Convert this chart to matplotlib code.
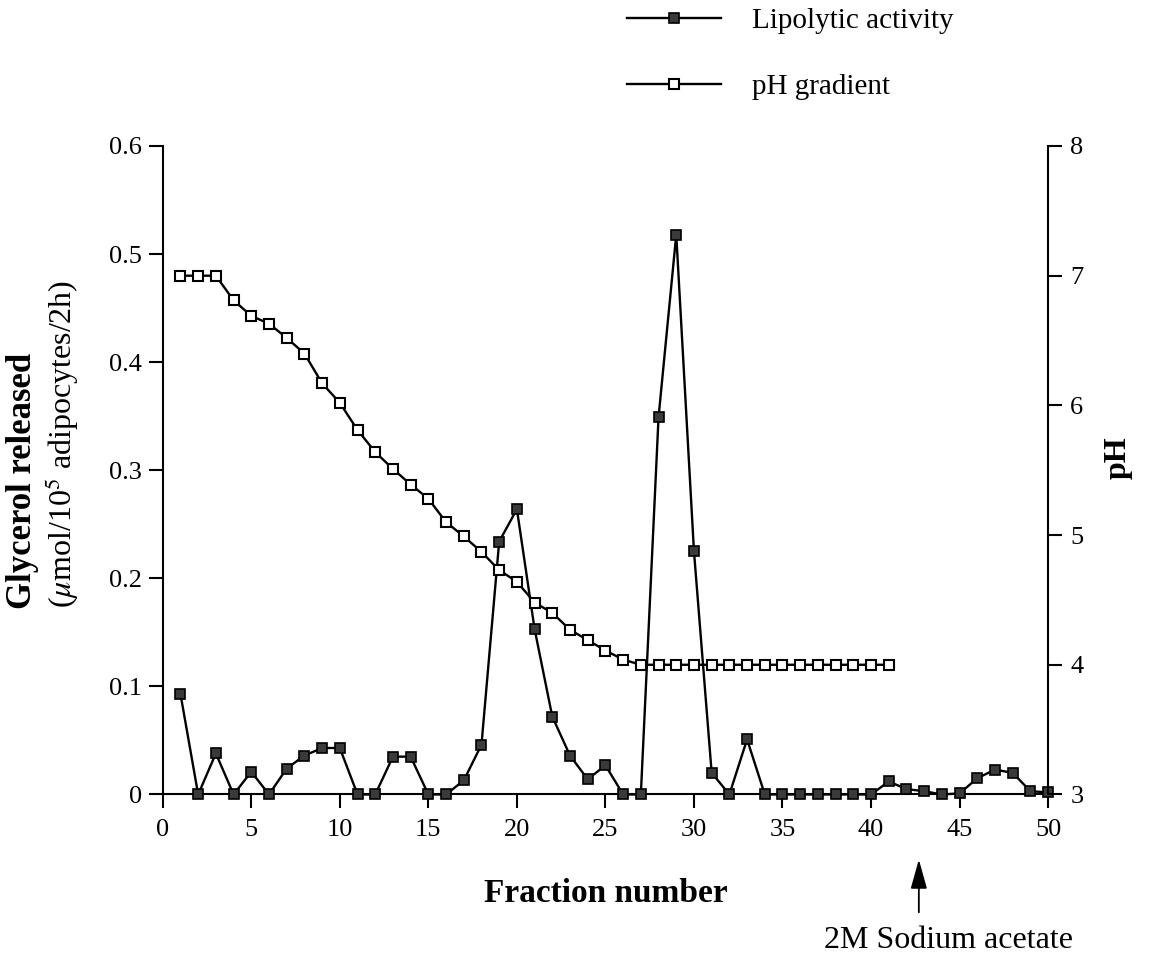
import matplotlib.pyplot as plt

plt.rcParams['font.family'] = ['Liberation Serif', 'DejaVu Serif']
plt.rcParams['mathtext.fontset'] = 'stix'

# Fraction numbers and measured values
fractions = list(range(1, 51))
lipolytic = [0.093, 0.0, 0.038, 0.0, 0.021, 0.0, 0.024, 0.036, 0.043, 0.043,
             0.0, 0.0, 0.035, 0.035, 0.0, 0.0, 0.013, 0.046, 0.234, 0.264,
             0.153, 0.072, 0.036, 0.014, 0.027, 0.0, 0.0, 0.349, 0.518, 0.225,
             0.020, 0.0, 0.051, 0.0, 0.0, 0.0, 0.0, 0.0, 0.0, 0.0,
             0.012, 0.005, 0.003, 0.0, 0.001, 0.015, 0.023, 0.020, 0.003, 0.002]

ph_fractions = list(range(1, 42))
ph_values = [7.0, 7.0, 7.0, 6.81, 6.69, 6.63, 6.52, 6.40, 6.17, 6.02,
             5.81, 5.64, 5.51, 5.39, 5.28, 5.10, 4.99, 4.87, 4.73, 4.64,
             4.48, 4.40, 4.27, 4.19, 4.11, 4.04, 4.0, 4.0, 4.0, 4.0,
             4.0, 4.0, 4.0, 4.0, 4.0, 4.0, 4.0, 4.0, 4.0, 4.0, 4.0]

x_ticks = list(range(0, 51, 5))
y_ticks = [0, 0.1, 0.2, 0.3, 0.4, 0.5, 0.6]
y_ticklabels = ['0', '0.1', '0.2', '0.3', '0.4', '0.5', '0.6']
ph_ticks = [3, 4, 5, 6, 7, 8]

fig = plt.figure(figsize=(11.51, 9.58), dpi=100)
ax = fig.add_axes([0.1414, 0.1707, 0.7692, 0.6769])
ax2 = ax.twinx()

l1, = ax.plot(fractions, lipolytic, color='black', lw=1.7, marker='s',
              markersize=7.8, markerfacecolor='#3a3a3a', markeredgecolor='black',
              markeredgewidth=1.2, clip_on=False, zorder=3)
l2, = ax2.plot(ph_fractions, ph_values, color='black', lw=1.7, marker='s',
               markersize=7.8, markerfacecolor='white', markeredgecolor='black',
               markeredgewidth=1.5, clip_on=False, zorder=3)

ax.set_xlim(0, 50)
ax.set_ylim(0, 0.6)
ax2.set_ylim(3, 8)
ax.set_xticks(x_ticks)
ax.set_yticks(y_ticks)
ax.set_yticklabels(y_ticklabels)
ax2.set_yticks(ph_ticks)

for a in (ax, ax2):
    a.spines['top'].set_visible(False)
    for s in a.spines.values():
        s.set_linewidth(1.5)
    a.tick_params(direction='out', length=10, width=1.5, labelsize=19)
ax.spines['right'].set_visible(False)
ax2.spines['left'].set_visible(False)
ax2.spines['bottom'].set_visible(False)
ax.tick_params(axis='x', pad=8)
ax.tick_params(axis='y', pad=5)
ax2.tick_params(axis='y', pad=6)

ax.set_xlabel('Fraction number', fontsize=24, fontweight='bold', labelpad=26)

fig.text(1118 / 1151, 1 - 458 / 958, 'pH', rotation=90, ha='center',
         va='center', fontsize=23, fontweight='bold')
fig.text(23 / 1151, 1 - 609 / 958, 'Glycerol released', rotation=90,
         ha='center', va='bottom', fontsize=25, fontweight='bold')
fig.text(62 / 1151, 1 - 608 / 958, r'($\mu$mol/10$^5$ adipocytes/2h)',
         rotation=90, ha='center', va='bottom', fontsize=23)

fig.legend([l1, l2], ['Lipolytic activity', 'pH gradient'], frameon=False,
           loc='upper left', bbox_to_anchor=(627 / 1151, 1 - 8 / 958),
           fontsize=21, handlelength=3.22, handletextpad=1.06, labelspacing=1.35,
           borderpad=0, borderaxespad=0)

ax.annotate('', xy=(42.7, -0.096), xycoords=('data', 'axes fraction'),
            xytext=(42.7, -0.186), textcoords=('data', 'axes fraction'),
            arrowprops=dict(arrowstyle='-|>,head_length=1.0,head_width=0.28',
                            mutation_scale=18, color='black', lw=1.3),
            annotation_clip=False)
fig.text(949 / 1151, 1 - 940 / 958, '2M Sodium acetate', ha='center',
         va='center', fontsize=23)

fig.savefig('out.png', dpi=100)
